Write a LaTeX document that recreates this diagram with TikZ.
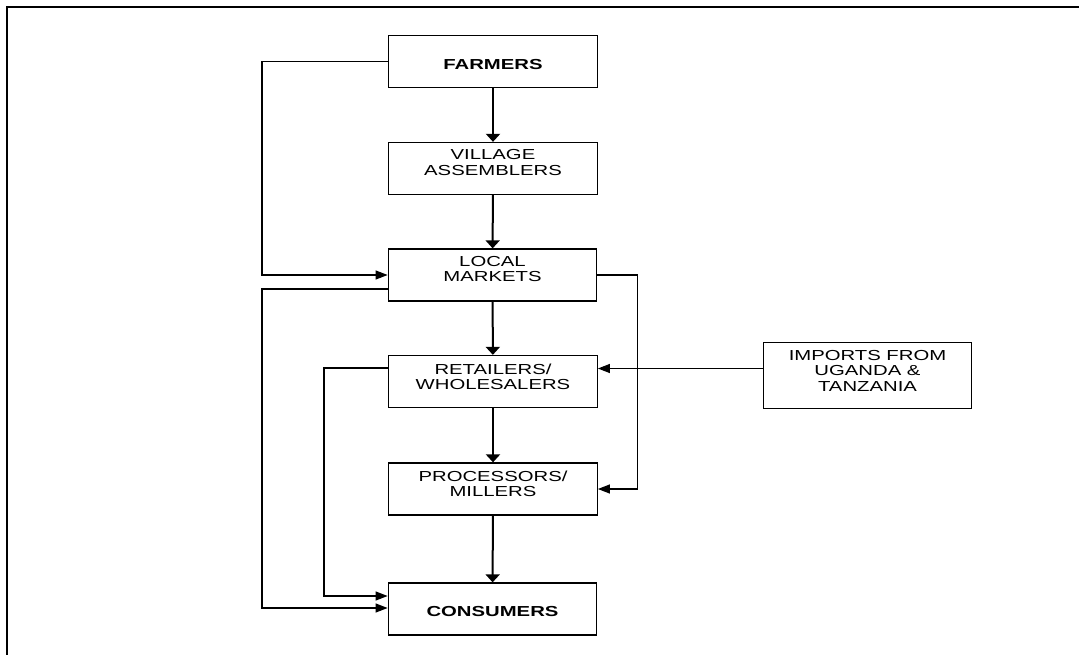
\documentclass[tikz,border=0pt]{standalone}
\usepackage{fontspec}
\setmainfont{Liberation Sans}[FakeStretch=1.4]
\usetikzlibrary{arrows.meta}
\begin{document}
\begin{tikzpicture}[x=1pt,y=-1pt,
  box/.style={draw, line width=1.3pt, minimum width=208.5pt, minimum height=52pt, inner sep=0pt},
  lbl/.style={font=\fontsize{14.5}{15.3}\selectfont, align=center, inner sep=0pt},
  varrow/.style={line width=2pt, -{Triangle[length=8pt,width=14pt]}},
  harrow/.style={line width=1.2pt, -{Triangle[length=12pt,width=9pt]}},
  link/.style={line width=1.2pt}]
\useasboundingbox (0,0) rectangle (1079,655);
\draw[line width=2pt] (7,655) -- (7,7.5) -- (1079,7.5);
% boxes
\node[box] (farm) at (493,61.5) {};
\node[box] (vil) at (493,168.5) {};
\node[box] (lm) at (492.5,275) {};
\node[box] (ret) at (493,381.5) {};
\node[box] (proc) at (493,489) {};
\node[box] (cons) at (492.5,609) {};
\node[box, minimum height=66pt] (imp) at (867.5,375.5) {};
% labels
\node[lbl] (farmt) at (493,64.3) {\bfseries FARMERS};
\node[lbl] (vilt) at (493,162.5) {VILLAGE\\ASSEMBLERS};
\node[lbl] (lmt) at (492.5,269) {LOCAL\\MARKETS};
\node[lbl] (rett) at (493,377) {RETAILERS/\\WHOLESALERS};
\node[lbl] (proct) at (493,484) {PROCESSORS/\\MILLERS};
\node[lbl] (const) at (492.5,611.3) {\bfseries CONSUMERS};
\node[lbl] (impt) at (867.5,370.7) {IMPORTS FROM\\UGANDA \&\\TANZANIA};
% main chain
\draw[varrow] (farm) -- (vil);
\draw[varrow] (vil) -- (lm);
\draw[varrow] (lm) -- (ret);
\draw[varrow] (ret) -- (proc);
\draw[varrow] (proc) -- (cons);
% columns
\coordinate (c1) at (262,0);
\coordinate (c2) at (324,0);
\coordinate (c3) at (637.7,0);
\coordinate (lmw2) at ([yshift=-14pt]lm.west);
\coordinate (consw1) at ([yshift=1pt]cons.west);
\coordinate (consw2) at ([yshift=13pt]cons.west);
\coordinate (retw) at ([yshift=13.5pt]ret.west);
\coordinate (impw) at ([yshift=7pt]imp.west);
% side links
\draw[harrow] (farm.west) -- (farm.west -| c1) |- (lm.west);
\draw[harrow] (lmw2) -- (lmw2 -| c1) |- (consw1);
\draw[harrow] (retw) -- (retw -| c2) |- (consw2);
\draw[harrow] (lm.east) -- (lm.east -| c3) |- (proc.east);
\draw[harrow] (impw) -- (impw -| ret.east);
\end{tikzpicture}
\end{document}
